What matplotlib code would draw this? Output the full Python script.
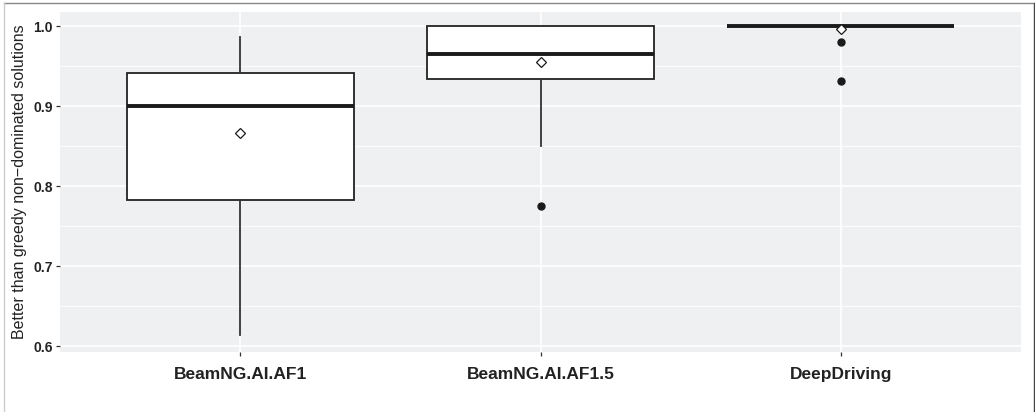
import matplotlib
matplotlib.use("Agg")
import matplotlib.pyplot as plt
from matplotlib.lines import Line2D

# values
groups = ["BeamNG.AI.AF1", "BeamNG.AI.AF1.5", "DeepDriving"]
q1 = [0.7825, 0.934, 1.0]
med = [0.900, 0.965, 1.0]
q3 = [0.941, 1.0, 1.0]
whislo = [0.614, 0.850, 1.0]
whishi = [0.986, 1.0, 1.0]
means = [0.866, 0.955, 0.996]
fliers = [[], [0.775], [0.980, 0.931]]

plt.rcParams['font.family'] = ['Liberation Sans', 'DejaVu Sans']

fig = plt.figure(figsize=(10.35, 4.12), dpi=100)
ax = fig.add_axes([60/1035, 60/412, 961/1035, 340/412])
ax.set_facecolor('#EFF0F2')

stats = []
for i in range(len(groups)):
    stats.append(dict(med=med[i], q1=q1[i], q3=q3[i], whislo=whislo[i],
                      whishi=whishi[i], mean=means[i], fliers=fliers[i], label=groups[i]))

ax.bxp(stats, positions=[1, 2, 3], widths=0.755, showmeans=True, patch_artist=True,
       boxprops=dict(facecolor='white', edgecolor='#222222', linewidth=1.3),
       medianprops=dict(color='#1a1a1a', linewidth=2.8, solid_capstyle='butt'),
       whiskerprops=dict(color='#333333', linewidth=1.3),
       capprops=dict(linewidth=0),
       flierprops=dict(marker='o', markerfacecolor='#1a1a1a', markeredgecolor='#1a1a1a', markersize=5),
       meanprops=dict(marker='D', markerfacecolor='white', markeredgecolor='#1a1a1a',
                      markersize=5.5, markeredgewidth=0.9),
       zorder=3)

ax.set_xlim(0.4, 3.6)
ax.set_ylim(0.5925, 1.0175)
ax.set_yticks([0.6, 0.7, 0.8, 0.9, 1.0])
ax.set_yticklabels(['0.6', '0.7', '0.8', '0.9', '1.0'])
ax.set_yticks([0.65, 0.75, 0.85, 0.95], minor=True)
ax.set_xticks([1, 2, 3])
ax.set_xticklabels(groups)
ax.grid(True, which='major', color='white', linewidth=1.2, zorder=0)
ax.grid(True, which='minor', axis='y', color='white', linewidth=0.6, zorder=0)
ax.set_axisbelow(True)
for s in ax.spines.values():
    s.set_visible(False)
ax.tick_params(axis='both', which='major', length=3, color='#333333', width=0.9)
ax.tick_params(axis='y', which='minor', length=0)
ax.tick_params(axis='y', labelsize=10, pad=2)
ax.tick_params(axis='x', labelsize=12.5, pad=8)
for t in ax.get_yticklabels() + ax.get_xticklabels():
    t.set_fontweight('bold')
    t.set_color('#222222')
ax.set_ylabel('Better than greedy non\u2212dominated solutions', fontsize=11.5, color='#222222', labelpad=5)

# outer frame of the image
fig.add_artist(Line2D([4/1035, 1033/1035], [1 - 3/412, 1 - 3/412], transform=fig.transFigure, color='#888888', linewidth=1))
fig.add_artist(Line2D([4/1035, 4/1035], [0, 1 - 3/412], transform=fig.transFigure, color='#cccccc', linewidth=1))
fig.add_artist(Line2D([1033.5/1035, 1033.5/1035], [0, 1 - 3/412], transform=fig.transFigure, color='#444444', linewidth=1))

fig.savefig('out.png', dpi=100)
